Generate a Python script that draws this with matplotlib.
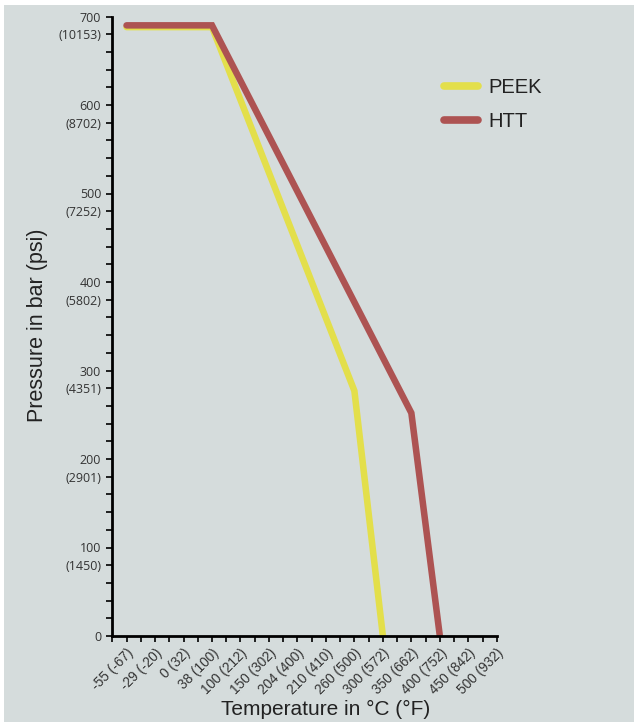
import numpy as np
import matplotlib
matplotlib.use("Agg")
import matplotlib.pyplot as plt
from matplotlib.patches import Rectangle

# temperature categories, deg C (deg F)
temp_labels = ["-55 (-67)", "-29 (-20)", "0 (32)", "38 (100)", "100 (212)",
               "150 (302)", "204 (400)", "210 (410)", "260 (500)", "300 (572)",
               "350 (662)", "400 (752)", "450 (842)", "500 (932)"]

# pressure curves: category index -> bar
peek_idx = [0, 3, 8, 9]
peek_bar = [688, 688, 277, 0]
htt_idx = [0, 3, 10, 11]
htt_bar = [690, 690, 252, 0]

# y axis labels
bar_major = [0, 100, 200, 300, 400, 500, 600, 700]
psi_major = ["", "(1450)", "(2901)", "(4351)", "(5802)", "(7252)", "(8702)", "(10153)"]

bg = "#d5dcdc"
c_peek = "#e3df4b"
c_htt = "#ad5352"

fig = plt.figure(figsize=(6.39, 7.27), dpi=100, facecolor="white")
fig.patches.append(Rectangle((4/639, 5/727), 630/639, 717/727, transform=fig.transFigure,
                             facecolor=bg, edgecolor="none", zorder=-10))
ax = fig.add_axes([112.3/639, 1-636/727, 384.5/639, 619.5/727])
ax.set_facecolor("none")

ax.plot(peek_idx, peek_bar, color=c_peek, lw=4.7, solid_capstyle="round",
        solid_joinstyle="miter", label="PEEK")
ax.plot(htt_idx, htt_bar, color=c_htt, lw=4.7, solid_capstyle="round",
        solid_joinstyle="miter", label="HTT")

ax.set_xlim(-0.5, 13)
ax.set_ylim(0, 700)

ax.set_xticks(np.arange(len(temp_labels)))
ax.set_xticks(np.arange(-0.5, 13, 1.0), minor=True)
ax.set_xticklabels(temp_labels, rotation=45, ha="right", rotation_mode="anchor",
                   family="Liberation Sans", fontsize=9.8, color="#333333")

yt = np.arange(0, 701, 20)
ylabs = []
for v in yt:
    if v % 100 == 0:
        ylabs.append(str(v))
    elif (v + 20) % 100 == 0:
        ylabs.append(psi_major[bar_major.index(v + 20)])
    else:
        ylabs.append("")
ax.set_yticks(yt)
ax.set_yticklabels(ylabs, family="Open Sans", fontsize=9, color="#333333")

ax.tick_params(axis="both", which="both", direction="out", length=4, width=1.2, color="black")
ax.tick_params(axis="y", pad=4)
ax.tick_params(axis="x", pad=3)
for s in ["top", "right"]:
    ax.spines[s].set_visible(False)
for s in ["left", "bottom"]:
    ax.spines[s].set_linewidth(2)
    ax.spines[s].set_color("black")

fig.text(326/639, 1-709/727, "Temperature in °C (°F)", ha="center", va="center",
         family="Liberation Sans", fontsize=15, color="#222222")
fig.text(38/639, 1-325/727, "Pressure in bar (psi)", ha="center", va="center",
         rotation=90, family="Liberation Sans", fontsize=15.5, color="#222222")

leg = ax.legend(loc="upper left", bbox_to_anchor=(426/639, 1-60/727),
                bbox_transform=fig.transFigure, frameon=False,
                prop={"family": "Liberation Sans", "size": 14.5},
                handlelength=1.7, handletextpad=0.5, labelspacing=0.75)
for h in leg.get_lines():
    h.set_linewidth(5.5)
for t in leg.get_texts():
    t.set_color("#222222")

fig.savefig("out.png", dpi=100, facecolor=fig.get_facecolor())
